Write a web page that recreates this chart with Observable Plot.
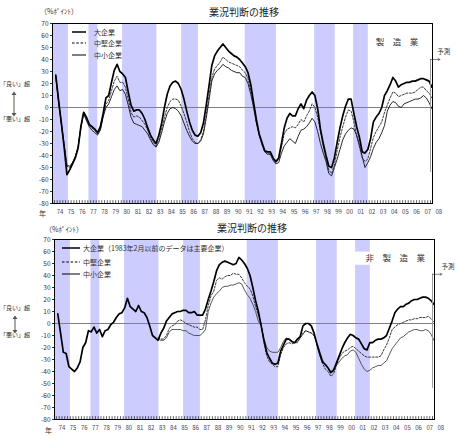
<!DOCTYPE html>
<html><head><meta charset="utf-8">
<script src="https://cdn.jsdelivr.net/npm/d3@7"></script>
<script src="https://cdn.jsdelivr.net/npm/@observablehq/plot@0.6"></script>
<style>
body{margin:0;background:#fff;}
#wrap{position:relative;width:458px;height:437px;overflow:hidden;font-family:"Noto Sans CJK JP","Noto Sans",sans-serif;color:#333;}
.a{position:absolute;white-space:nowrap;line-height:1;}
.p{position:absolute;left:0;}
</style></head><body><div id="wrap"></div>
<script>
// ---- data (quarterly, survey months Feb/May/Aug/Nov) ----
const quarterPos = [0.125, 0.375, 0.625, 0.875];
const seriesNames = ["大企業", "中堅企業", "中小企業"];
const mfgStart = 1974;
const mfgLarge = [27,6,-13,-33, -56,-52,-47,-42, -34,-16,-4,-8, -14,-16,-18,-21, -16,-5,8,10, 21,31,36,30, 28,25,13,2, -3,-2,-2,-5, -10,-17,-23,-27, -30,-23,-13,0, 11,18,21,22, 20,15,7,-3, -12,-19,-23,-24, -21,-13,2,18, 35,43,47,50, 53,50,47,45, 43,42,40,37, 34,29,19,4, -10,-22,-29,-36, -37,-37,-42,-45, -42,-30,-17,-9, -5,-7,-7,-1, 3,-1,6,10, 13,10,-1,-18, -30,-40,-49,-50, -42,-29,-17,-7, 1,7,7,-5, -16,-25,-37,-38, -35,-26,-12,-8, -5,0,10,14, 19,25,22,17, 19,20,21,21, 22,22,23,24, 24,23,22,17];
const mfgMedium = [26,6,-13,-31, -49,-50,-46,-41, -33,-16,-4,-10, -15,-17,-19,-22, -18,-7,3,6, 14,22,26,21, 21,17,7,-4, -8,-7,-8,-11, -14,-19,-25,-29, -32,-27,-18,-8, 0,5,7,7, 6,1,-5,-12, -20,-26,-29,-30, -27,-20,-6,10, 25,32,35,38, 42,40,38,37, 36,35,34,31, 29,24,14,2, -12,-22,-30,-36, -38,-38,-43,-46, -43,-33,-22,-18, -17,-16,-17,-14, -10,-12,-7,-3, 3,0,-8,-20, -32,-43,-52,-55, -48,-36,-25,-16, -8,-2,-3,-12, -24,-33,-42,-45, -43,-34,-25,-20, -16,-12,-4,2, 8,13,12,9, 10,11,12,12, 12,13,15,17, 17,14,12,8];
const mfgSmall = [25,5,-14,-31, -48,-49,-46,-41, -33,-17,-5,-11, -16,-19,-21,-23, -19,-8,0,3, 9,15,18,14, 15,11,2,-8, -13,-14,-15,-16, -19,-22,-27,-31, -33,-29,-21,-12, -5,-1,0,-1, -3,-7,-13,-19, -24,-28,-30,-30, -28,-22,-9,6, 22,28,31,33, 36,34,33,31, 30,29,29,26, 25,20,11,0, -13,-23,-31,-37, -39,-39,-44,-47, -46,-38,-32,-29, -26,-28,-30,-24, -19,-18,-16,-13, -9,-12,-20,-30, -38,-45,-55,-57, -50,-43,-35,-27, -22,-19,-17,-18, -23,-31,-41,-50, -46,-41,-34,-29, -26,-21,-15,-3, 2,5,4,1, 0,3,4,5, 6,7,7,8, 10,8,4,-1];
const nonmfgLargeStart = 1974;
const nonmfgLarge = [8,-8,-24,-25, -36,-38,-40,-37, -32,-20,-16,-6, -7,-3,-8,-5, -11,-6,-5,-1, 1,5,8,9, 13,21,14,12, 10,15,10,9, 5,-2,-10,-12, -14,-8,-4,2, 5,8,9,10, 10,11,11,9, 9,10,7,7, 7,12,20,27, 35,44,49,51, 52,51,50,49, 50,55,53,50, 46,40,30,19, 10,-2,-14,-24, -29,-33,-34,-33, -23,-18,-13,-13, -15,-16,-13,-11, -2,0,0,-2, -8,-17,-25,-32, -34,-37,-41,-39, -33,-27,-21,-16, -12,-9,-10,-12, -13,-17,-21,-22, -16,-16,-14,-13, -13,-12,-10,-4, 2,9,12,14, 14,16,17,19, 20,20,21,22, 22,21,19,16];
const nonmfgOtherStart = 1983;
const nonmfgMedium = [-12,-13,-13,-10, -4,-2,-1,2, 3,2,0,-1, -2,-3,-3,-5, -5,3,15,23, 27,36,38,37, 39,40,40,42, 41,41,38,34, 31,29,23,14, 7,0,-16,-27, -32,-34,-36,-36, -26,-20,-17,-16, -17,-16,-16,-12, -8,-6,-7,-8, -10,-17,-26,-33, -38,-40,-44,-42, -35,-29,-25,-23, -22,-20,-19,-21, -23,-25,-27,-28, -28,-28,-28,-28, -27,-22,-18,-12, -5,-3,-1,0, 1,2,3,3, 4,4,5,5, 5,6,4,1];
const nonmfgSmall = [-13,-14,-14,-12, -7,-5,-5,-5, -5,-6,-6,-8, -9,-10,-10,-10, -8,-5,10,17, 22,25,27,30, 31,31,32,32, 33,34,33,28, 24,21,16,10, 2,-2,-13,-20, -23,-24,-24,-24, -20,-15,-12,-13, -15,-16,-15,-12, -9,-6,-7,-8, -10,-16,-23,-30, -35,-37,-40,-38, -35,-32,-29,-27, -26,-23,-22,-24, -29,-34,-38,-40, -39,-37,-36,-35, -35,-33,-31,-26, -21,-18,-15,-12, -11,-9,-7,-6, -5,-5,-6,-6, -5,-6,-9,-14];
const recessions = [[1973.83,1975.26],[1977.1,1977.9],[1980.12,1983.2],[1985.42,1986.92],[1991.12,1993.92],[1997.35,1999.2],[2000.85,2002.17]];
const yTicks = d3.range(-80, 71, 10);
const yearLabels = d3.range(1974, 2009);
const quarterTicks = d3.range(1974, 2008, 0.25);
const forecastAt = 2007.75;
const xDomain = [1973.83, 2007.93];
const yDomain = [-80, 70];

const FONT = '"Noto Sans CJK JP","Noto Sans",sans-serif';
function rows(values, start, series) {
  return values.map((v, i) => ({t: start + Math.floor(i / 4) + quarterPos[i % 4], v, series}));
}

function panel(o) {
  const marks = [
    Plot.rect(recessions, {x1: d => d[0], x2: d => d[1], fill: "#ccccff"}),
  ];
  if (o.labelBox) marks.push(Plot.rect([o.label], {x1: d => d.t - 3.9, x2: d => d.t + 3.2, y1: d => d.v - 5.5, y2: d => d.v + 5.5, fill: "white"}));
  marks.push(
    Plot.ruleY([0], {stroke: "#808080", strokeWidth: 1}),
    Plot.ruleX(quarterTicks, {y1: -80, y2: -77.6, stroke: "#000", strokeWidth: 0.6}),
    Plot.line(o.small, {x: "t", y: "v", stroke: o.smallColor, strokeWidth: 0.9}),
    Plot.line(o.medium, {x: "t", y: "v", stroke: "#222", strokeWidth: 0.9, strokeDasharray: "2,1.6"}),
    Plot.line(o.large, {x: "t", y: "v", stroke: "#000", strokeWidth: 1.7}),
    Plot.ruleX([forecastAt], {y1: o.fTop, y2: -54, stroke: "#9a9a9a", strokeWidth: 1}),
    Plot.arrow([forecastAt], {x1: d => d, x2: d => d + 0.85, y1: o.fTop, y2: o.fTop, stroke: "#666", strokeWidth: 0.8, headLength: 4}),
    Plot.text(["予測"], {x: forecastAt + o.fTextDx, y: o.fTop + 6, fontSize: 6.5, fill: "#333"}),
    Plot.text([o.label], {x: "t", y: "v", text: "text", fontSize: 8.5, fill: "#333"}),
    Plot.frame({stroke: "#000", strokeWidth: 1}),
    Plot.axisY({ticks: yTicks, tickSize: 2, tickPadding: 2, fontSize: 6.5, tickFormat: d => String(d), fill: "#333", label: null}),
    Plot.text(yearLabels, {x: d => d + 0.5, y: -80, text: d => String(d % 100).padStart(2, "0"), dy: 8.6, fontSize: 6, fill: "#445"})
  );
  return Plot.plot({
    width: 458, height: o.height,
    marginLeft: o.ml, marginRight: o.mr, marginTop: o.mt, marginBottom: o.mb,
    x: {domain: xDomain, axis: null},
    y: {domain: yDomain, axis: null, label: null},
    style: {fontFamily: FONT, background: "none", overflow: "visible"},
    marks
  });
}

const wrap = document.getElementById("wrap");
const top1 = panel({
  large: rows(mfgLarge, mfgStart, seriesNames[0]),
  medium: rows(mfgMedium, mfgStart, seriesNames[1]),
  small: rows(mfgSmall, mfgStart, seriesNames[2]),
  smallColor: "#111",
  label: {t: 2004.75, v: 54, text: "製　造　業"},
  fTop: 40, fTextDx: 1.2,
  height: 218, ml: 52, mr: 26, mt: 23, mb: 15
});
const bot = panel({
  large: rows(nonmfgLarge, nonmfgLargeStart, seriesNames[0]),
  medium: rows(nonmfgMedium, nonmfgOtherStart, seriesNames[1]),
  small: rows(nonmfgSmall, nonmfgOtherStart, seriesNames[2]),
  smallColor: "#444",
  label: {t: 2004.4, v: 54, text: "非　製　造　業"}, labelBox: true,
  fTop: 41, fTextDx: 1.4,
  height: 219, ml: 54, mr: 24, mt: 21, mb: 18
});
const d1 = document.createElement("div"); d1.className = "p"; d1.style.top = "0px"; d1.appendChild(top1);
const d2 = document.createElement("div"); d2.className = "p"; d2.style.top = "218px"; d2.appendChild(bot);
wrap.appendChild(d1); wrap.appendChild(d2);

function txt(s, x, y, size, extra) {
  const e = document.createElement("div");
  e.className = "a"; e.textContent = s;
  e.style.left = x + "px"; e.style.top = y + "px"; e.style.fontSize = size + "px";
  if (extra) Object.assign(e.style, extra);
  wrap.appendChild(e);
  return e;
}
// titles
txt("業況判断の推移", 209, 7, 10, {color: "#222"});
txt("業況判断の推移", 217, 223, 10, {color: "#222"});
txt("（%ﾎﾟｲﾝﾄ）", 40, 8, 7);
txt("（%ﾎﾟｲﾝﾄ）", 45, 226, 7);
// side labels
function side(yGood, yArrowTop, yArrowBot, yBad, x) {
  txt("「良い」超", 0, yGood - 3, 6);
  txt("「悪い」超", 0, yBad - 3, 6);
  const ns = "http://www.w3.org/2000/svg";
  const s = document.createElementNS(ns, "svg");
  s.setAttribute("width", 10); s.setAttribute("height", yArrowBot - yArrowTop + 2);
  s.style.position = "absolute"; s.style.left = (x - 5) + "px"; s.style.top = (yArrowTop - 1) + "px";
  const h = yArrowBot - yArrowTop;
  s.innerHTML = `<line x1="5" y1="3" x2="5" y2="${h - 2}" stroke="#776f66" stroke-width="1.2"/>
    <path d="M2.5,4 L5,0.5 L7.5,4 Z" fill="#555"/><path d="M2.5,${h - 2} L5,${h + 1.5} L7.5,${h - 2} Z" fill="#555"/>`;
  wrap.appendChild(s);
}
side(84, 92, 116, 119, 14);
side(308, 316, 333, 335, 15);
txt("年", 39, 210, 7);
txt("年", 45, 427, 7);
// legends
function legend(x1, x2, xt, ys, first) {
  const ns = "http://www.w3.org/2000/svg";
  const s = document.createElementNS(ns, "svg");
  s.setAttribute("width", 458); s.setAttribute("height", 437);
  s.style.position = "absolute"; s.style.left = "0"; s.style.top = "0";
  s.innerHTML = `<line x1="${x1}" x2="${x2}" y1="${ys[0]}" y2="${ys[0]}" stroke="#000" stroke-width="1.5"/>
   <line x1="${x1}" x2="${x2}" y1="${ys[1]}" y2="${ys[1]}" stroke="#000" stroke-width="1" stroke-dasharray="2.5,1.8"/>
   <line x1="${x1}" x2="${x2}" y1="${ys[2]}" y2="${ys[2]}" stroke="#000" stroke-width="1"/>`;
  wrap.appendChild(s);
  txt(first, xt, ys[0] - 3.5, 7);
  txt(seriesNames[1], xt, ys[1] - 3.5, 7);
  txt(seriesNames[2], xt, ys[2] - 3.5, 7);
}
legend(72, 86, 94, [32, 43, 55], seriesNames[0]);
legend(62, 80, 83, [248, 262, 274], seriesNames[0] + "（1983年2月以前のデータは主要企業）");
</script></body></html>
